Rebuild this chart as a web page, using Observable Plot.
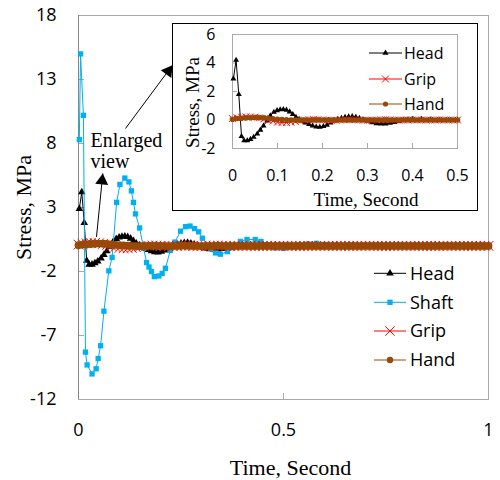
<!DOCTYPE html>
<html><head><meta charset="utf-8">
<script src="https://cdn.jsdelivr.net/npm/d3@7"></script>
<script src="https://cdn.jsdelivr.net/npm/@observablehq/plot@0.6"></script>
<style>
html,body{margin:0;padding:0;background:#fff;}
#chart{position:relative;width:500px;height:480px;overflow:hidden;}
#chart svg{position:absolute;}
</style></head>
<body><div id="chart"></div>
<script>
// ---------- data ----------
const headTime = [0.002,0.008,0.014,0.020,0.026,0.033,0.040,0.047,0.055,0.062,0.069,0.077,0.084,0.092,0.099,0.106,0.113,0.120,0.127,0.134,0.141,0.148,0.155,0.162,0.170,0.178,0.186,0.194,0.202,0.210,0.218,0.226,0.234,0.242,0.250,0.258,0.266,0.274,0.282,0.290,0.300,0.310,0.320,0.330,0.340,0.350,0.360,0.370,0.380,0.390,0.400,0.420,0.440,0.460,0.480,0.500,0.550,0.600,0.700,0.800,0.900,1.000];
const headStress = [2.9,4.2,1.8,-1.15,-1.45,-1.45,-1.35,-1.2,-0.97,-0.7,-0.4,-0.05,0.3,0.55,0.67,0.73,0.75,0.7,0.58,0.4,0.2,0.05,-0.08,-0.2,-0.3,-0.4,-0.48,-0.5,-0.45,-0.35,-0.2,-0.05,0.05,0.12,0.2,0.24,0.25,0.2,0.12,0.03,-0.08,-0.18,-0.24,-0.26,-0.26,-0.22,-0.16,-0.08,0,0.03,0.05,0.05,0.03,0,-0.02,-0.02,0,0.01,0,0,0,0];

const shaftTime = [0.002,0.005,0.012,0.017,0.021,0.033,0.043,0.048,0.054,0.062,0.074,0.082,0.093,0.101,0.113,0.123,0.129,0.134,0.139,0.149,0.159,0.166,0.172,0.178,0.185,0.196,0.204,0.212,0.224,0.235,0.249,0.261,0.272,0.283,0.293,0.302,0.322,0.334,0.346,0.363,0.375,0.395,0.411,0.431,0.445,0.460,0.480,0.500,0.520,0.540,0.560,0.580,0.600,0.650,0.700,0.800,0.900,1.000];
const shaftStress = [8.3,15,10.2,-8.3,-9.3,-10,-9.6,-8.8,-7.8,-5.1,-1.95,-0.9,3.4,4.8,5.3,5.0,4.3,3.4,2.5,1.4,-0.2,-1.3,-1.65,-2.0,-2.4,-2.35,-2.15,-1.75,-0.35,0.3,1.15,1.5,1.55,1.35,1.1,0.6,-0.2,-0.55,-0.65,-0.45,-0.15,0.35,0.5,0.5,0.35,0.1,-0.15,-0.2,-0.1,0.05,0.15,0.2,0.1,0,0,0,0,0];

const gripHandTime = [
  0,0.01,0.02,0.03,0.04,0.05,0.06,0.07,0.08,0.09,
  0.10,0.11,0.12,0.13,0.14,0.15,0.16,0.17,0.18,0.19,
  0.20,0.21,0.22,0.23,0.24,0.25,0.26,0.27,0.28,0.29,
  0.30,0.31,0.32,0.33,0.34,0.35,0.36,0.37,0.38,0.39,
  0.40,0.41,0.42,0.43,0.44,0.45,0.46,0.47,0.48,0.49,
  0.50,0.51,0.52,0.53,0.54,0.55,0.56,0.57,0.58,0.59,
  0.60,0.61,0.62,0.63,0.64,0.65,0.66,0.67,0.68,0.69,
  0.70,0.71,0.72,0.73,0.74,0.75,0.76,0.77,0.78,0.79,
  0.80,0.81,0.82,0.83,0.84,0.85,0.86,0.87,0.88,0.89,
  0.90,0.91,0.92,0.93,0.94,0.95,0.96,0.97,0.98,0.99,
  1.00];
const gripStress = [
  0.1,0.15,0.2,0.22,0.22,0.2,0.15,0.08,0,-0.08,
  -0.15,-0.18,-0.18,-0.15,-0.1,-0.05,0,0.02,0.03,0.02,
  0,-0.02,-0.03,-0.02,0,0.02,0.03,0.02,0,-0.02,
  -0.02,-0.01,0,0.01,0.02,0.01,0,-0.01,-0.01,0,
  0.01,0.01,0,-0.01,0,0,0.01,0,-0.01,0,
  0,0.01,0,0,-0.01,0,0,0.01,0,0,
  0,0,-0.01,0,0,0.01,0,0,0,0,
  0,0.01,0,0,0,-0.01,0,0,0,0,
  0,0,0,0.01,0,0,0,0,-0.01,0,
  0,0,0,0,0,0.01,0,0,0,0,
  0];
const handStress = [
  0.05,0.1,0.12,0.15,0.17,0.18,0.17,0.15,0.12,0.08,
  0.05,0.03,0.01,0,-0.01,-0.01,0,0,0.01,0.01,
  0,0,-0.01,0,0,0.01,0.01,0,0,0,
  -0.01,0,0,0,0.01,0,0,0,0,0,
  0,0,0,0,0,0,0,0,0,0,
  0,0,0,0,0,0,0,0,0,0,
  0,0,0,0,0,0,0,0,0,0,
  0,0,0,0,0,0,0,0,0,0,
  0,0,0,0,0,0,0,0,0,0,
  0,0,0,0,0,0,0,0,0,0,
  0];

const mainXTicks = [0, 0.5, 1];
const mainYTicks = [-12, -7, -2, 3, 8, 13, 18];
const insetXTicks = [0, 0.1, 0.2, 0.3, 0.4, 0.5];
const insetYTicks = [-2, 0, 2, 4, 6];

const seriesNames = ["Head", "Shaft", "Grip", "Hand"];
const insetNames = ["Head", "Grip", "Hand"];

// annotation arrows (time, stress) in main-chart data units
const arrowFromT = [0.1146, 0.0439];
const arrowFromV = [9.17, 0.70];
const arrowToT = [0.2293, 0.0593];
const arrowToV = [14.12, 5.66];
const arrowAngle = [36, 6];
const noteText = "Enlarged\nview";
const noteT = 0.0293, noteV = 6.05;

// ---------- styling ----------
const colors = {Head: "#000000", Shaft: "#00b0f0", Grip: "#ff0000", Hand: "#984807"};
const symbols = {Head: "triangle", Shaft: "square", Grip: "times", Hand: "circle"};
const frameGray = "#a9a9a9";
const axisGray = "#868686";
const sans = "'Open Sans', 'Liberation Sans', sans-serif";
const serif = "'Liberation Serif', 'Times New Roman', serif";

const zip = (ts, vs) => ts.map((t, i) => ({t, v: vs[i]}));
const data = {
  Head: zip(headTime, headStress),
  Shaft: zip(shaftTime, shaftStress),
  Grip: zip(gripHandTime, gripStress),
  Hand: zip(gripHandTime, handStress)
};
const fmt = d => String(d);
const blank = () => "";

function seriesMarks(names, rs, filter) {
  const out = [];
  for (const n of names) {
    const d = filter ? data[n].filter(filter) : data[n];
    out.push(Plot.line(d, {x: "t", y: "v", stroke: colors[n], strokeWidth: 1}));
    if (symbols[n] === "times") {
      out.push(Plot.dot(d, {x: "t", y: "v", symbol: "times", r: rs[n], stroke: colors[n], strokeWidth: 1}));
    } else {
      out.push(Plot.dot(d, {x: "t", y: "v", symbol: symbols[n], r: rs[n], fill: colors[n], stroke: "none"}));
    }
  }
  return out;
}

const arrowHead = {
  draw(ctx) { ctx.moveTo(0, 0); ctx.lineTo(6.5, 11); ctx.lineTo(-6.5, 11); ctx.closePath(); }
};
const arrows = arrowFromT.map((t, i) => ({x1: t, y1: arrowFromV[i], x2: arrowToT[i], y2: arrowToV[i], a: arrowAngle[i]}));

const root = document.getElementById("chart");

// ---------- main plot ----------
const main = Plot.plot({
  width: 500, height: 480,
  marginLeft: 78, marginRight: 12, marginTop: 15, marginBottom: 81,
  style: {fontFamily: sans, background: "transparent", overflow: "visible"},
  x: {domain: [0, 1]},
  y: {domain: [-12, 18]},
  marks: [
    Plot.frame({stroke: frameGray}),
    Plot.axisX(mainXTicks, {tickSize: 0, tickPadding: 24, fontSize: 18, tickFormat: fmt, label: null}),
    Plot.axisX(mainXTicks, {tickSize: 6, dy: -6, tickFormat: blank, stroke: frameGray, label: null}),
    Plot.axisY(mainYTicks, {tickSize: 0, tickPadding: 22, fontSize: 18, tickFormat: fmt, label: null}),
    Plot.axisY(mainYTicks, {tickSize: 6, dx: 6, tickFormat: blank, stroke: frameGray, label: null}),
    Plot.ruleX([0], {stroke: axisGray}),
    ...seriesMarks(seriesNames, {Head: 2.8, Shaft: 3, Grip: 4.5, Hand: 3.9}),
    Plot.link(arrows, {x1: "x1", y1: "y1", x2: "x2", y2: "y2", stroke: "black", strokeWidth: 1}),
    Plot.dot(arrows, {x: "x2", y: "y2", symbol: arrowHead, r: 5, rotate: "a", fill: "black", stroke: "none"}),
    Plot.text([noteText], {x: () => noteT, y: () => noteV, text: d => d, textAnchor: "start", lineAnchor: "bottom", lineHeight: 1.08, fontSize: 20, fontFamily: serif, fontWeight: "normal", fill: "black"}),
    Plot.text(["Time, Second"], {frameAnchor: "bottom", lineAnchor: "bottom", dy: 75, dx: 7, fontSize: 22, fontFamily: serif, fontWeight: "normal", fill: "black"}),
    Plot.text(["Stress, MPa"], {frameAnchor: "left", rotate: -90, dx: -55, lineAnchor: "middle", textAnchor: "middle", fontSize: 22, fontFamily: serif, fontWeight: "normal", fill: "black"})
  ]
});
main.style.left = "0px"; main.style.top = "0px";
root.appendChild(main);

// ---------- inset ----------
const inset = Plot.plot({
  width: 306, height: 188,
  marginLeft: 60, marginRight: 21, marginTop: 11, marginBottom: 63,
  style: {fontFamily: sans, background: "white", overflow: "visible"},
  x: {domain: [0, 0.5]},
  y: {domain: [-2, 6]},
  marks: [
    Plot.frame({stroke: frameGray}),
    Plot.axisX(insetXTicks, {tickSize: 0, tickPadding: 21, fontSize: 16, tickFormat: fmt, label: null}),
    Plot.axisX(insetXTicks, {tickSize: 5, dy: -5, tickFormat: blank, stroke: frameGray, label: null}),
    Plot.axisY(insetYTicks, {tickSize: 0, tickPadding: 17, fontSize: 16, tickFormat: fmt, label: null}),
    Plot.axisY(insetYTicks, {tickSize: 5, dx: 5, tickFormat: blank, stroke: frameGray, label: null}),
    ...seriesMarks(insetNames, {Head: 2.2, Grip: 3.2, Hand: 2.8}, d => d.t <= 0.5),
    Plot.text(["Time, Second"], {frameAnchor: "bottom", lineAnchor: "bottom", dy: 57, dx: 21, fontSize: 19, fontFamily: serif, fontWeight: "normal", fill: "black"}),
    Plot.text(["Stress, MPa"], {frameAnchor: "left", rotate: -90, dx: -40, dy: 11, lineAnchor: "middle", textAnchor: "middle", fontSize: 19, fontFamily: serif, fontWeight: "normal", fill: "black"})
  ]
});
inset.style.left = "172px"; inset.style.top = "23px";
inset.style.outline = "1px solid #000"; inset.style.outlineOffset = "-1px";
root.appendChild(inset);

// ---------- legends ----------
function legend(left, top, w, h, names, rows, x1, x2, tx, fontSize, rs) {
  const svg = d3.create("svg").attr("width", w).attr("height", h)
    .style("left", left + "px").style("top", top + "px").style("overflow", "visible");
  names.forEach((n, i) => {
    const y = rows[i];
    svg.append("line").attr("x1", x1).attr("x2", x2).attr("y1", y).attr("y2", y)
      .attr("stroke", colors[n]).attr("stroke-width", 1);
    const symType = {triangle: d3.symbolTriangle, square: d3.symbolSquare, times: d3.symbolTimes, circle: d3.symbolCircle}[symbols[n]];
    const p = svg.append("path").attr("d", d3.symbol(symType, Math.PI * rs[n] * rs[n])())
      .attr("transform", `translate(${(x1 + x2) / 2},${y})`);
    if (symbols[n] === "times") p.attr("fill", "none").attr("stroke", colors[n]).attr("stroke-width", 1);
    else p.attr("fill", colors[n]);
    svg.append("text").attr("x", tx).attr("y", y + fontSize * 0.35)
      .attr("font-family", sans).attr("font-size", fontSize).attr("fill", "black").text(n);
  });
  root.appendChild(svg.node());
}
legend(360, 255, 140, 120, seriesNames, [18.3, 47.3, 76, 105], 14, 46, 50, 18, {Head: 2.8, Shaft: 3, Grip: 4.3, Hand: 3.2});
legend(360, 40, 110, 80, insetNames, [13, 39, 64], 9, 42, 44, 16, {Head: 2.3, Grip: 3.2, Hand: 2.6});
</script>
</body></html>
